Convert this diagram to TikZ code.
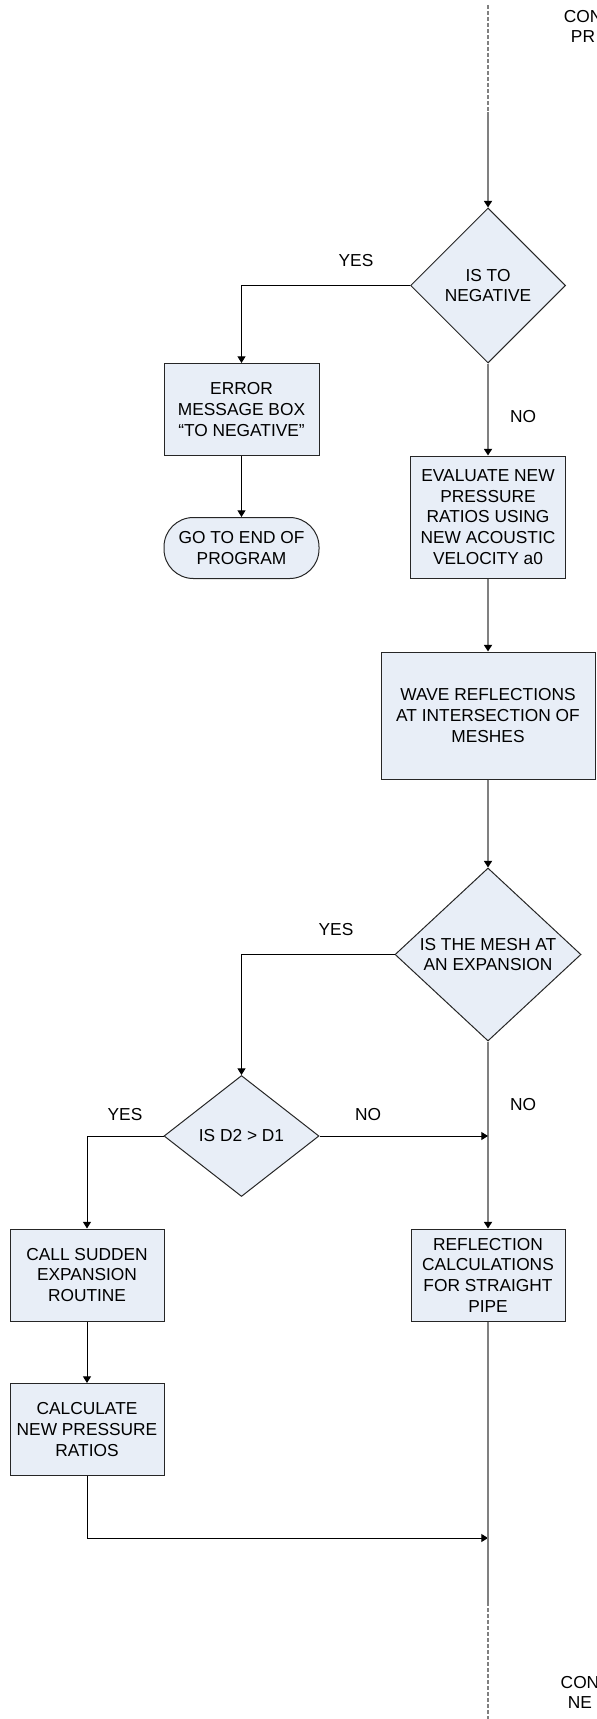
\documentclass[tikz,border=0pt]{standalone}
\usepackage{fontspec}
\setmainfont{Liberation Sans}
\usepackage{xcolor}
\usetikzlibrary{arrows.meta, shapes.geometric}

\definecolor{boxfill}{RGB}{232,238,247}
\definecolor{linegray}{RGB}{128,128,128}

\tikzset{
  every node/.style={font=\fontsize{13}{15.5}\selectfont},
  procbox/.style={draw=black!85, fill=boxfill, line width=0.75pt, align=center, inner sep=1.5pt},
  termbox/.style={procbox, rounded corners=22pt},
  decbox/.style={draw=black!85, fill=boxfill, line width=0.75pt, diamond, align=center, inner sep=0pt},
  label/.style={inner sep=0.75pt, align=center},
  flow/.style={line width=0.75pt, black, -{Triangle[length=5pt,width=6pt]}},
  mainflow/.style={line width=1.4pt, linegray, -{Triangle[length=5pt,width=6pt,color=black]}},
  mainline/.style={line width=1.4pt, linegray},
  offpage/.style={mainline, dash pattern=on 3pt off 1.5pt}
}

\begin{document}
\begin{tikzpicture}[x=0.75pt,y=0.75pt,yscale=-1,xscale=1]
        \clip (0,0) rectangle (596,1719);

        % Off page connector points
        \coordinate (top) at (488,5);
        \coordinate (topmid) at (488,112);
        \coordinate (joinA) at (488,1136);
        \coordinate (joinB) at (488,1538);
        \coordinate (botmid) at (488,1602);
        \coordinate (bot) at (488,1719);

        % Shapes
        \node [decbox, minimum width=116.25pt, minimum height=116.25pt] (negtest) at (488,285.5) {IS TO\\NEGATIVE};
        \node [procbox, minimum width=116.25pt, minimum height=69pt] (errbox) at (241.5,409.5) {ERROR\\MESSAGE BOX\\“TO NEGATIVE”};
        \node [termbox, minimum width=116.25pt, minimum height=45.75pt] (endprog) at (241.5,548) {GO TO END OF\\PROGRAM};
        \node [procbox, minimum width=116.25pt, minimum height=91.5pt] (evalbox) at (488,517) {EVALUATE NEW\\PRESSURE\\RATIOS USING\\NEW ACOUSTIC\\VELOCITY a0};
        \node [procbox, minimum width=160.5pt, minimum height=95.25pt] (wavebox) at (488,715.5) {WAVE REFLECTIONS\\AT INTERSECTION OF\\MESHES};
        \node [decbox, minimum width=139.5pt, minimum height=129.75pt] (meshtest) at (488,954.5) {IS THE MESH AT\\AN EXPANSION};
        \node [decbox, minimum width=116.25pt, minimum height=90.75pt] (dtest) at (241.5,1136) {IS D2 > D1};
        \node [procbox, minimum width=115.5pt, minimum height=69pt] (callbox) at (87,1275) {CALL SUDDEN\\EXPANSION\\ROUTINE};
        \node [procbox, minimum width=115.5pt, minimum height=69pt] (reflbox) at (488,1275) {REFLECTION\\CALCULATIONS\\FOR STRAIGHT\\PIPE};
        \node [procbox, minimum width=115.5pt, minimum height=69pt] (calcbox) at (87,1429.5) {CALCULATE\\NEW PRESSURE\\RATIOS};

        %Straight Lines
        \draw [offpage] (top) -- (topmid);
        \draw [mainflow] (topmid) -- (negtest.north);
        \draw [flow] (negtest.west) -| (errbox.north);
        \draw [flow] (errbox.south) -- (endprog.north);
        \draw [mainflow] (negtest.south) -- (evalbox.north);
        \draw [mainflow] (evalbox.south) -- (wavebox.north);
        \draw [mainflow] (wavebox.south) -- (meshtest.north);
        \draw [flow] (meshtest.west) -| (dtest.north);
        \draw [mainflow] (meshtest.south) -- (reflbox.north);
        \draw [flow] (dtest.east) -- (joinA);
        \draw [flow] (dtest.west) -| (callbox.north);
        \draw [flow] (callbox.south) -- (calcbox.north);
        \draw [flow] (calcbox.south) |- (joinB);
        \draw [mainline] (reflbox.south) -- (botmid);
        \draw [offpage] (botmid) -- (bot);

        % Text Node
        \node [label] (yesA) at (356,261) {YES};
        \node [label] (noA) at (523,417) {NO};
        \node [label] (yesB) at (336,930) {YES};
        \node [label] (noB) at (523,1105) {NO};
        \node [label] (yesC) at (125,1115) {YES};
        \node [label] (noC) at (368,1115) {NO};
        \node [label] (fromprev) at (583,26.5) {CON\\PR};
        \node [label] (tonext) at (580,1692.5) {CON\\NE};

\end{tikzpicture}
\end{document}
